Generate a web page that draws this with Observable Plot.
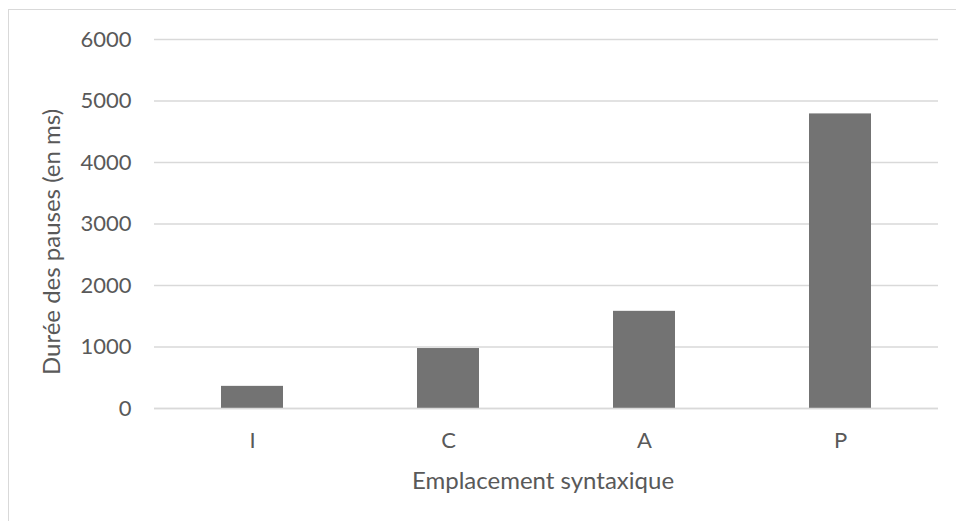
<!DOCTYPE html>
<html>
<head>
<meta charset="utf-8">
<script src="https://cdn.jsdelivr.net/npm/d3@7"></script>
<script src="https://cdn.jsdelivr.net/npm/@observablehq/plot@0.6"></script>
<style>
  html, body { margin: 0; padding: 0; background: #fff; overflow: hidden; }
  #wrap { position: relative; width: 956px; height: 521px; font-family: Lato, "Open Sans", sans-serif; color: #595959; }
  #frame { position: absolute; left: 8px; top: 9px; width: 1000px; height: 600px; border: 1.5px solid #d9d9d9; box-sizing: border-box; }
  .title { position: absolute; font-size: 24px; white-space: nowrap; line-height: 1.2; }
  #ytitle { left: 51px; top: 242px; transform: translate(-50%, -50%) rotate(-90deg); }
  #xtitle { left: 543px; top: 480px; transform: translate(-50%, -50%); }
  svg { position: absolute; left: 0; top: 0; }
</style>
</head>
<body>
<div id="wrap">
  <div id="frame"></div>
</div>
<script>
const categories = ["I", "C", "A", "P"];
const values = [360, 975, 1580, 4790];
const yTicks = [0, 1000, 2000, 3000, 4000, 5000, 6000];
const xTitle = "Emplacement syntaxique";
const yTitle = "Durée des pauses (en ms)";

const data = categories.map((c, i) => ({cat: c, val: values[i]}));

const chart = Plot.plot({
  width: 956,
  height: 521,
  marginLeft: 154,
  marginRight: 18,
  marginTop: 39,
  marginBottom: 113,
  style: {fontFamily: "Lato, 'Open Sans', sans-serif", fontSize: "22px", color: "#595959", background: "transparent"},
  x: {domain: categories, padding: 0, label: null},
  y: {domain: [0, 6000], label: null},
  marks: [
    Plot.ruleY(yTicks, {stroke: "#d9d9d9", strokeWidth: 1.5}),
    Plot.barY(data, {x: "cat", y: "val", fill: "#737373", insetLeft: 67, insetRight: 67}),
    Plot.ruleY([0], {stroke: "#d9d9d9", strokeWidth: 1.5}),
    Plot.axisY({ticks: yTicks, tickSize: 0, tickPadding: 23, tickFormat: d => String(d), label: null, fill: "#595959"}),
    Plot.axisX({tickSize: 0, tickPadding: 24, label: null, fill: "#595959"})
  ]
});

const wrap = document.getElementById("wrap");
wrap.appendChild(chart);
const yt = document.createElement("div");
yt.id = "ytitle"; yt.className = "title"; yt.textContent = yTitle;
const xt = document.createElement("div");
xt.id = "xtitle"; xt.className = "title"; xt.textContent = xTitle;
wrap.appendChild(yt);
wrap.appendChild(xt);
</script>
</body>
</html>
